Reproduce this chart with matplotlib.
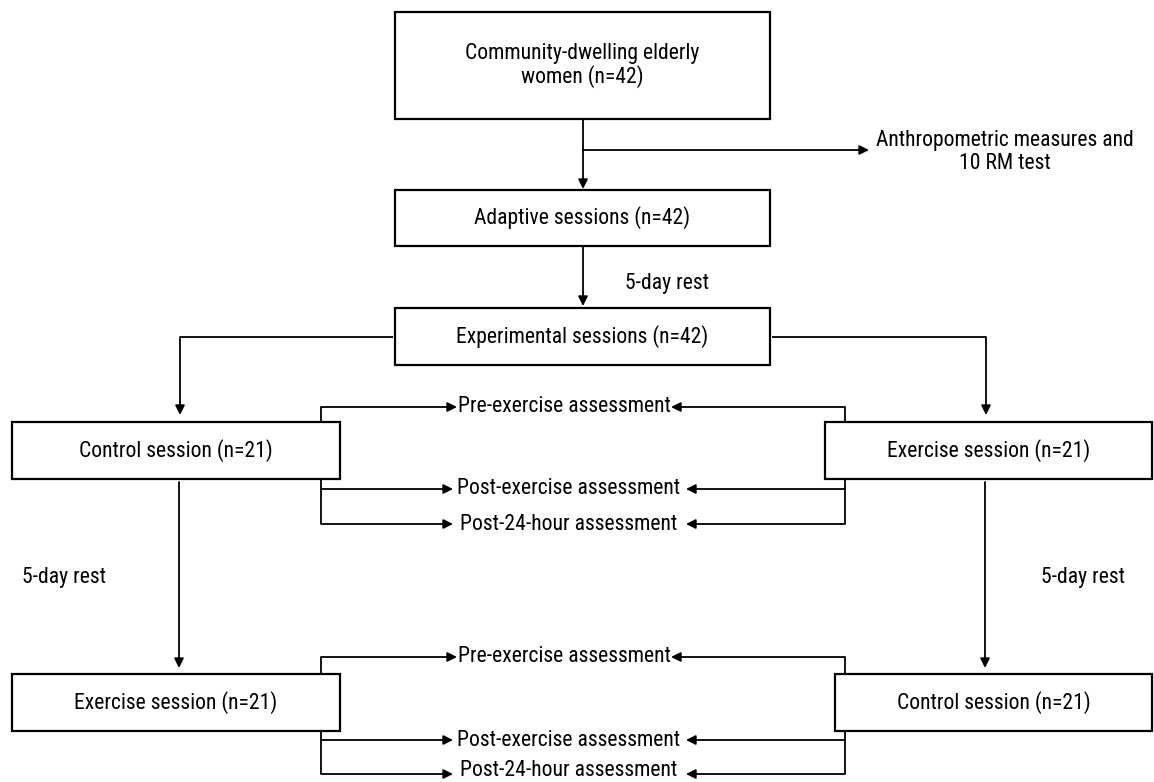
"""
Flow diagram of the crossover study design (control vs exercise sessions).
Drawn in pixel coordinates on a single blank axes.
"""
import matplotlib
matplotlib.use("Agg")
import matplotlib.pyplot as plt
from matplotlib import font_manager as fm
from matplotlib.patches import Rectangle

# Diagram texts
top_label = "Community-dwelling elderly\nwomen (n=42)"
side_label = "Anthropometric measures and\n10 RM test"
adaptive_label = "Adaptive sessions (n=42)"
experimental_label = "Experimental sessions (n=42)"
rest_label = "5-day rest"
first_sessions = ["Control session (n=21)", "Exercise session (n=21)"]
second_sessions = ["Exercise session (n=21)", "Control session (n=21)"]
assessments = ["Pre-exercise assessment", "Post-exercise assessment",
               "Post-24-hour assessment"]

# pick a narrow sans face if one is around (the original uses a condensed font)
_have = {(f.name, str(f.stretch)) for f in fm.fontManager.ttflist}
_names = {n for n, _ in _have}
FONT = dict(family=["DejaVu Sans"], stretch="normal")
for fam, st in [("Liberation Sans Narrow", None), ("Roboto Condensed", None),
                ("Open Sans Condensed", None), ("DejaVu Sans", "condensed"),
                ("Noto Sans", "condensed"), ("Roboto", "condensed")]:
    if st is None and fam in _names:
        FONT = dict(family=[fam, "DejaVu Sans"], stretch="normal")
        break
    if st is not None and any(n == fam and s in ("condensed", "semi-condensed",
                                                 "500", "600", "700", "750")
                              for n, s in _have):
        FONT = dict(family=[fam, "DejaVu Sans"], stretch="condensed")
        break

W, H = 1154, 782
LW = 1.3
ARROW = dict(arrowstyle="-|>", mutation_scale=14, lw=LW, color="black",
             shrinkA=0, shrinkB=0)

fig = plt.figure(figsize=(W / 100, H / 100), dpi=100)
ax = fig.add_axes([0, 0, 1, 1])
ax.set_xlim(0, W)
ax.set_ylim(H, 0)
ax.axis("off")

# scale the font so a session label is as wide as in the original (~193 px)
_probe = ax.text(0, 0, first_sessions[0], fontsize=10, **FONT)
_w = _probe.get_window_extent(renderer=fig.canvas.get_renderer()).width
_probe.remove()
FS = 10 * 193 / _w


def label(x, y, text, ha="center"):
    ax.text(x, y, text, ha=ha, va="center", fontsize=FS, linespacing=1.1,
            **FONT)


def box(x0, y0, x1, y1, text):
    ax.add_patch(Rectangle((x0, y0), x1 - x0, y1 - y0, fill=False,
                           edgecolor="black", lw=1.6))
    label((x0 + x1) / 2, (y0 + y1) / 2, text)


def arrow(p0, p1):
    ax.annotate("", xy=p1, xytext=p0, arrowprops=ARROW)


def line(xs, ys):
    ax.plot(xs, ys, color="black", lw=LW, solid_capstyle="butt")


# upper chain
box(395, 12, 770, 119, top_label)
box(395, 190, 770, 246, adaptive_label)
box(395, 308, 770, 365, experimental_label)
line([583, 583], [119, 150])
arrow((583, 150), (583, 189))
arrow((583, 150), (869, 150))
label(1005, 152, side_label)
arrow((583, 246), (583, 306))
label(625, 284, rest_label, ha="left")

# split to the two arms
line([393, 180], [337, 337])
arrow((180, 337), (180, 415))
line([772, 986], [337, 337])
arrow((986, 337), (986, 415))

# session boxes
box(12, 422, 340, 479, first_sessions[0])
box(825, 422, 1152, 479, first_sessions[1])
box(12, 674, 340, 731, second_sessions[0])
box(835, 674, 1152, 731, second_sessions[1])

# rest between periods
arrow((179, 482), (179, 668))
arrow((985, 482), (985, 668))
label(22, 577, rest_label, ha="left")
label(1041, 577, rest_label, ha="left")


def assessment_block(y_pre, y_top, y_bot, y_post, y_24, y_24_text):
    xl, xr = 321, 845
    # pre-exercise from the box tops
    line([xl, xl], [y_top, y_pre])
    arrow((xl, y_pre), (457, y_pre))
    line([xr, xr], [y_top, y_pre])
    arrow((xr, y_pre), (671, y_pre))
    label(564, y_pre, assessments[0])
    # post-exercise and 24 h from the box bottoms
    line([xl, xl], [y_bot, y_24])
    line([xr, xr], [y_bot, y_24])
    for y, ty, lab in [(y_post, y_post, assessments[1]),
                       (y_24, y_24_text, assessments[2])]:
        arrow((xl, y), (453, y))
        arrow((xr, y), (686, y))
        label(569, ty, lab)


assessment_block(407, 422, 479, 489, 524, 524)
assessment_block(657, 674, 731, 740, 774, 770)

fig.savefig("out.png", dpi=100)
